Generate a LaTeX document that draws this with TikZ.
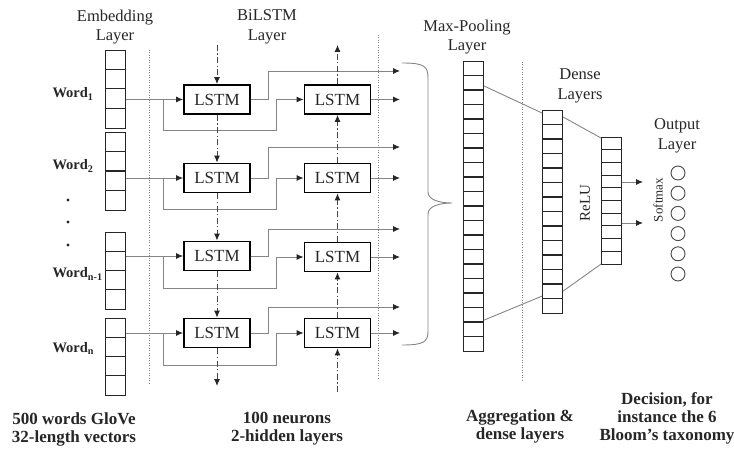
\documentclass[tikz,border=0pt]{standalone}
\usepackage{fontspec}
\setmainfont{Liberation Serif}
\usepackage{tikz}
\usetikzlibrary{arrows.meta,positioning,calc}
\definecolor{vdark}{HTML}{262626}
\definecolor{vgrey}{HTML}{858585}
\newcommand{\cellrules}[3]{\foreach \k in {1,...,#2}{\draw[cellrule] ([yshift=-\k*#3pt]#1.north west) -- ([yshift=-\k*#3pt]#1.north east);}}

\begin{document}
\begin{tikzpicture}[x=1pt,y=-1pt,
  every node/.style={font=\fontsize{16.5}{19.5}\selectfont,align=center,text=vdark},
  vecbox/.style={draw=vdark,line width=1.1pt,minimum width=20pt,inner sep=0pt,anchor=north west},
  cellrule/.style={draw=vdark,line width=1.1pt},
  lstm/.style={draw=black,line width=1.8pt,minimum width=66pt,minimum height=29pt,inner sep=0pt,font=\fontsize{17}{17}\selectfont},
  link/.style={draw=vgrey,line width=0.9pt},
  arrow/.style={link,-{Latex[length=7pt,width=6pt,color=vdark]}},
  rec/.style={arrow,draw=vdark!85,dash pattern=on 6pt off 2.5pt on 1.2pt off 2.5pt},
  sep/.style={draw=vgrey,line width=1pt,dash pattern=on 1pt off 1.5pt},
  word/.style={font=\bfseries\fontsize{14.5}{15}\selectfont,anchor=base west},
  note/.style={font=\bfseries\fontsize{17}{18}\selectfont},
  outc/.style={circle,draw=vdark!85,line width=0.9pt,minimum size=14pt,inner sep=0pt}
]
\useasboundingbox (0,0) rectangle (734,449);

\node (embt) at (115,27) {Embedding\\Layer};
\node (bilt) at (267,27) {BiLSTM\\Layer};
\node (mpt) at (467,37) {Max-Pooling\\Layer};
\node (dnt) at (580,86) {Dense\\Layers};
\node (outt) at (677,136) {Output\\Layer};

\node[vecbox,minimum height=77.6pt] (emb1) at (105,50) {};
\node[vecbox,minimum height=78pt] (emb2) at (105,132) {};
\node[vecbox,minimum height=77.2pt] (emb3) at (105,232) {};
\node[vecbox,minimum height=77.2pt] (emb4) at (105,318) {};
\cellrules{emb1}{3}{19.4}
\cellrules{emb2}{3}{19.5}
\cellrules{emb3}{3}{19.3}
\cellrules{emb4}{3}{19.3}

\node[word] (w1) at (49,98) {Word\textsubscript{1}};
\node[word] (w2) at (49,170) {Word\textsubscript{2}};
\node[word] (w3) at (49,278) {Word\textsubscript{n-1}};
\node[word] (w4) at (49,352) {Word\textsubscript{n}};
\fill[vdark] (68,200) circle (1.6pt) (68,222) circle (1.6pt) (68,245) circle (1.6pt);

\draw[sep] (149,50) -- (149,385);
\draw[sep] (378,35) -- (378,380);
\draw[sep] (522,62) -- (522,382);

\node[lstm] (f1) at (217,99.5) {LSTM};
\node[lstm] (f2) at (217,178) {LSTM};
\node[lstm] (f3) at (217,256) {LSTM};
\node[lstm] (f4) at (217,333) {LSTM};
\node[lstm] (b1) at (337.5,99.5) {LSTM};
\node[lstm] (b2) at (337.5,178) {LSTM};
\node[lstm] (b3) at (337.5,257) {LSTM};
\node[lstm] (b4) at (337.5,333) {LSTM};

\draw[arrow] (emb1.east |- f1) -- (f1);
\draw[arrow] (emb2.east |- f2) -- (f2);
\draw[arrow] (emb3.east |- f3) -- (f3);
\draw[arrow] (emb4.east |- f4) -- (f4);
\draw[arrow] ([xshift=-20pt]f1.west) -- ++(0,31) -| ([xshift=-27pt]b1.west) -- (b1.west);
\draw[arrow] ([xshift=-20pt]f2.west) -- ++(0,31) -| ([xshift=-27pt]b2.west) -- (b2.west);
\draw[arrow] ([xshift=-20pt]f3.west) -- ++(0,32) -| ([xshift=-27pt]b3.west) -- (b3.west);
\draw[arrow] ([xshift=-20pt]f4.west) -- ++(0,32) -| ([xshift=-27pt]b4.west) -- (b4.west);

\coordinate (p1) at (400,71);
\coordinate (p2) at (400,147);
\coordinate (p3) at (400,229);
\coordinate (p4) at (400,307);
\coordinate (q1) at (400,99.5);
\coordinate (q2) at (400,178);
\coordinate (q3) at (400,257);
\coordinate (q4) at (400,333);
\draw[arrow] (f1.east) -- ++(18,0) |- (p1);
\draw[arrow] (f2.east) -- ++(18,0) |- (p2);
\draw[arrow] (f3.east) -- ++(18,0) |- (p3);
\draw[arrow] (f4.east) -- ++(18,0) |- (p4);
\draw[arrow] (b1.east) -- (q1);
\draw[arrow] (b2.east) -- (q2);
\draw[arrow] (b3.east) -- (q3);
\draw[arrow] (b4.east) -- (q4);

\coordinate (ftop) at (217,45);
\coordinate (fbot) at (217,386);
\coordinate (btop) at (337.5,45);
\coordinate (bbot) at (337.5,392);
\draw[rec] (ftop) -- (f1);
\draw[rec] (f1) -- (f2);
\draw[rec] (f2) -- (f3);
\draw[rec] (f3) -- (f4);
\draw[rec] (f4) -- (fbot);
\draw[rec] (bbot) -- (b4);
\draw[rec] (b4) -- (b3);
\draw[rec] (b3) -- (b2);
\draw[rec] (b2) -- (b1);
\draw[rec] (b1) -- (btop);

\draw[link] (402,63) .. controls (424,63) and (428,66) .. (428,78) -- (428,192)
  .. controls (428,200) and (440,203) .. (452,203)
  .. controls (440,203) and (428,206) .. (428,214) -- (428,331)
  .. controls (428,342) and (424,345) .. (402,345);

\node[vecbox,minimum height=290pt] (mp) at (463,61) {};
\cellrules{mp}{19}{14.5}
\node[vecbox,minimum height=203pt] (d1) at (542,110) {};
\cellrules{d1}{13}{14.5}
\node[vecbox,minimum height=127pt] (d2) at (601,137) {};
\cellrules{d2}{9}{12.7}

\draw[link] ([yshift=-25pt]mp.north east) -- ([yshift=-3pt]d1.north west);
\draw[link] ([yshift=32pt]mp.south east) -- ([yshift=18pt]d1.south west);
\draw[link] ([yshift=-7pt]d1.north east) -- ([yshift=-1pt]d2.north west);
\draw[link] ([yshift=23pt]d1.south east) -- ([yshift=1pt]d2.south west);

\node[rotate=90,font=\fontsize{15}{15}\selectfont] (relu) at (585,203) {ReLU};
\node[rotate=90,font=\fontsize{13}{13}\selectfont] (smax) at (658,200) {Softmax};
\coordinate (s1) at (643,182);
\coordinate (s2) at (643,223);
\draw[arrow] (d2.east |- s1) -- (s1);
\draw[arrow] (d2.east |- s2) -- (s2);
\foreach \i in {1,...,6} \node[outc] (o\i) at (678,{152.8+20.2*\i}) {};

\node[note] (n1) at (74,429) {500 words GloVe\\32-length vectors};
\node[note] (n2) at (287,429) {100 neurons\\2-hidden layers};
\node[note] (n3) at (520,426) {Aggregation \&\\dense layers};
\node[note] (n4) at (667,418) {Decision, for\\instance the 6\\Bloom’s taxonomy};
\end{tikzpicture}
\end{document}
